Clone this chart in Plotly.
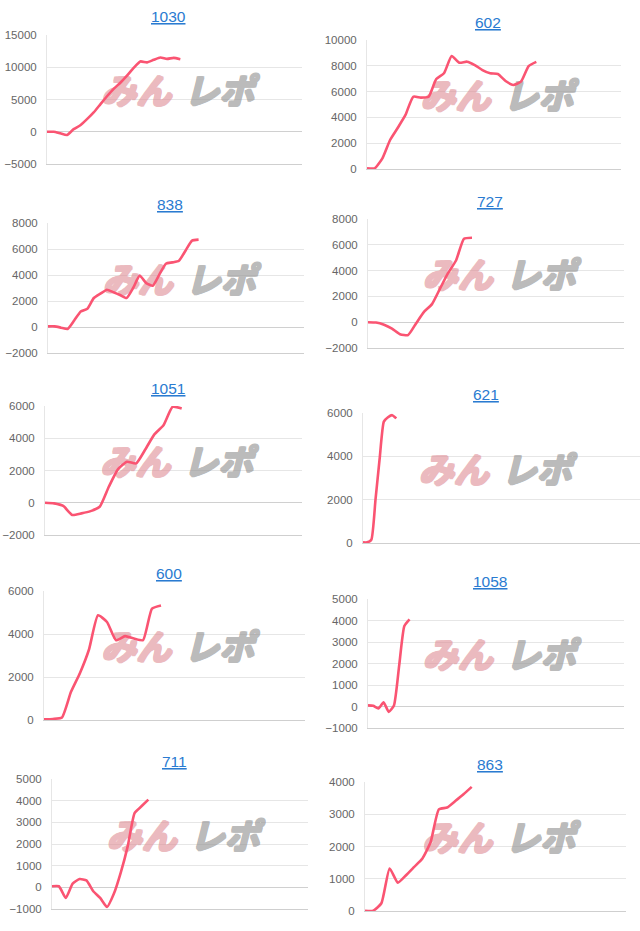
import plotly.graph_objects as go

# ---------------- data ----------------
titles = ["1030", "602", "838", "727", "1051", "621", "600", "1058", "711", "863"]

s1030 = [0, 0, -250, -500, 400, 1000, 1950, 3000, 4250, 5500, 6650, 7600, 8700,
         9900, 10900, 10750, 11150, 11500, 11300, 11450, 11250]
s602 = [50, 50, 830, 2250, 3200, 4190, 5600, 5530, 5600, 6980, 7420, 8760, 8240,
        8320, 8060, 7670, 7420, 7360, 6820, 6510, 6770, 7980, 8300]
s838 = [50, 50, -50, -150, 500, 1200, 1400, 2230, 2560, 2870, 2670, 2460, 2230,
        3000, 3950, 3380, 3180, 4030, 4870, 4970, 5100, 5870, 6640, 6720]
s727 = [0, -30, -200, -500, -930, -1000, -100, 800, 1400, 2600, 3800, 4780, 6470, 6550]
s1051 = [0, -40, -200, -760, -660, -520, -250, 990, 2070, 2540, 2440, 3300, 4240,
         4810, 5950, 5850]
s621 = [30, 30, 150, 2000, 3900, 5600, 5800, 5900, 5750]
s600 = [30, 50, 120, 1310, 2190, 3280, 4870, 4560, 3710, 3900, 3790, 3710, 5180, 5330]
s1058 = [50, 30, -90, 190, -250, 50, 1900, 3740, 4050]
s711 = [50, 50, -490, 170, 380, 320, -180, -490, -910, -290, 690, 1890, 3430, 3740, 4050]
s863 = [10, 10, 240, 1320, 880, 1110, 1370, 1630, 2140, 3150, 3210, 3410, 3620, 3850]

series = [s1030, s602, s838, s727, s1051, s621, s600, s1058, s711, s863]

y_ranges = [(-5000, 15000), (0, 10000), (-2000, 8000), (-2000, 8000), (-2000, 6000),
            (0, 6000), (0, 6000), (-1000, 5000), (-1000, 5000), (0, 4000)]
y_dticks = [5000, 2000, 2000, 2000, 2000, 2000, 2000, 1000, 1000, 1000]
# number of x slots on each axis (category count - 1)
x_slots = [38.25, 33.0, 39.1, 32.0, 28.2, 66.5, 29.0, 49.3, 37.2, 31.8]

watermark = ["みん", "レポ"]

# ---------------- layout (pixels) ----------------
W, H = 640, 931
# plot boxes: x0, x1, y_top, y_bottom
boxes = [(47, 302, 35, 164), (367, 621, 40, 169),
         (48, 304, 223, 353), (368, 624, 219, 348),
         (45, 302, 406, 535), (363, 640, 413, 543),
         (44, 305, 591, 720), (368, 624, 599, 728),
         (52, 308, 779, 909), (365, 626, 782, 911)]
# nominal box used for centring title / watermark
nominal_x = [(47, 302), (367, 621), (48, 304), (368, 624), (45, 302),
             (363, 621), (44, 305), (368, 624), (52, 308), (365, 626)]

LINE = "rgb(250, 84, 114)"
GRID = "#e6e6e6"
TICKC = "#666666"
TITLEC = "#2a7bd1"
PINK = "rgb(222, 138, 146)"
GRAY = "rgb(150, 150, 150)"


def thick(c):
    return (f"1px 0 0 {c}, -1px 0 0 {c}, 0 1px 0 {c}, 0 -1px 0 {c}, "
            f"1px 1px 0 {c}, -1px -1px 0 {c}, 1px -1px 0 {c}, -1px 1px 0 {c}")


fig = go.Figure()
annotations = []

for i, (vals, box) in enumerate(zip(series, boxes)):
    n = i + 1
    x0, x1, yt, yb = box
    xa = "x" if n == 1 else f"x{n}"
    ya = "y" if n == 1 else f"y{n}"
    ymin, ymax = y_ranges[i]
    nx0, nx1 = nominal_x[i]
    cx = (nx0 + nx1) / 2

    # watermark (drawn first so the data line sits on top)
    wx = nx0 + 0.53 * (nx1 - nx0)
    wy = yt + 0.47 * (yb - yt)
    xr1 = min(x1, W)
    for txt, dx, col, op in [(watermark[0], -46, PINK, 0.58), (watermark[1], 37, GRAY, 0.64)]:
        px = wx + dx
        fig.add_trace(go.Scatter(
            x=[(px - x0) / (xr1 - x0) * x_slots[i]],
            y=[ymax - (wy - yt) / (yb - yt) * (ymax - ymin)],
            mode="text", text=[txt], textposition="middle center",
            textfont=dict(family="Noto Sans CJK JP", size=35, color=col,
                          weight="bold", style="italic", shadow=thick(col)),
            opacity=op, cliponaxis=False, hoverinfo="skip", showlegend=False,
            xaxis=xa, yaxis=ya,
        ))

    fig.add_trace(go.Scatter(
        x=list(range(len(vals))), y=vals, mode="lines",
        line=dict(color=LINE, width=2.6, shape="spline", smoothing=0.5),
        xaxis=xa, yaxis=ya, hoverinfo="skip", showlegend=False,
    ))
    xk = "xaxis" if n == 1 else f"xaxis{n}"
    yk = "yaxis" if n == 1 else f"yaxis{n}"
    fig.layout[xk] = dict(
        domain=[x0 / W, min(x1 / W, 1.0)], anchor=ya, automargin=False,
        range=[0, x_slots[i]], showgrid=False, zeroline=False,
        showticklabels=False, ticks="", showline=True, linecolor="#cfcfcf",
        linewidth=1, fixedrange=True,
    )
    fig.layout[yk] = dict(
        domain=[1 - yb / H, 1 - yt / H], anchor=xa, automargin=False,
        range=[ymin, ymax], dtick=y_dticks[i], tick0=0, tickformat="d",
        showgrid=True, gridcolor=GRID, gridwidth=1,
        zeroline=True, zerolinecolor="#d0d0d0", zerolinewidth=1,
        showline=True, linecolor=GRID, linewidth=1,
        ticks="outside", ticklen=7, tickcolor="rgba(0,0,0,0)",
        tickfont=dict(family="Liberation Sans, Arial, sans-serif", size=11.5, color=TICKC),
        fixedrange=True,
    )
    # title
    annotations.append(dict(
        xref="paper", yref="paper", x=(cx - 6) / W, y=1 - (yt - 18) / H,
        text=titles[i], showarrow=False, xanchor="center", yanchor="middle",
        font=dict(family="Liberation Sans, Arial, sans-serif", size=15.5,
                  color=TITLEC, lineposition="under"),
    ))

fig.update_layout(
    template="none",
    width=W, height=H, margin=dict(l=0, r=0, t=0, b=0, pad=0, autoexpand=False),
    paper_bgcolor="white", plot_bgcolor="white",
    annotations=annotations, showlegend=False,
)

fig.write_html(
    "out.html",
    config={"displayModeBar": False},
    post_script="document.body.style.margin='0';document.body.style.overflow='hidden';",
)
